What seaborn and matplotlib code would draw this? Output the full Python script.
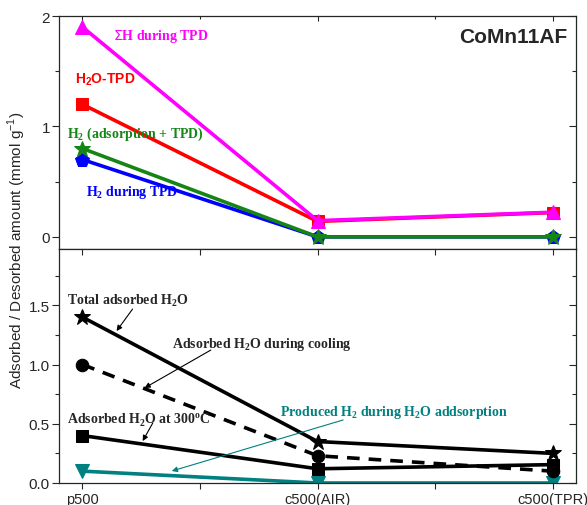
import pandas as pd
import seaborn as sns
import matplotlib.pyplot as plt
from matplotlib.ticker import MultipleLocator

sns.set_style('ticks')
plt.rcParams['font.family'] = ['Liberation Sans', 'DejaVu Sans']

samples = ['p500', 'c500(AIR)', 'c500(TPR)']

# top panel (desorption during TPD)
sum_h_tpd = [1.9, 0.147, 0.223]
h2o_tpd = [1.2, 0.14, 0.22]
h2_ads_tpd = [0.8, 0.0, 0.0]
h2_tpd = [0.7, 0.0, 0.0]

# bottom panel (adsorption)
total_h2o = [1.4, 0.35, 0.25]
h2o_cooling = [1.0, 0.23, 0.10]
h2o_300 = [0.4, 0.12, 0.155]
produced_h2 = [0.1, 0.0, 0.0]

fig = plt.figure(figsize=(5.87, 5.06), dpi=100)
ax1 = fig.add_axes([0.1005, 0.5059, 0.8808, 0.4605])
ax2 = fig.add_axes([0.1005, 0.0435, 0.8808, 0.4624])

serif = ['Liberation Serif', 'DejaVu Serif']
lw = 2.6

top_series = [
    (h2_tpd, '#0000FF', 'p', 10),
    (h2_ads_tpd, '#158515', '*', 12),
    (h2o_tpd, '#FF0000', 's', 8),
    (sum_h_tpd, '#FF00FF', '^', 10),
]
for vals, col, mk, ms in top_series:
    sns.lineplot(x=samples, y=vals, sort=False, color=col, lw=lw, marker=mk,
                 markersize=ms, mec=col, mfc=col, ax=ax1)

bottom_series = [
    (produced_h2, '#008080', 'v', 10),
    (h2o_300, 'black', 's', 8),
    (h2o_cooling, 'black', 'o', 9),
    (total_h2o, 'black', '*', 12),
]
for vals, col, mk, ms in bottom_series:
    sns.lineplot(x=samples, y=vals, sort=False, color=col, lw=lw, marker=mk,
                 markersize=ms, mec=col, mfc=col, ax=ax2)
    if vals is h2o_cooling:
        ax2.lines[-1].set_dashes([3.5, 2.5])

for ax in (ax1, ax2):
    ax.set_xlim(-0.1, 2.1)
    ax.xaxis.set_minor_locator(MultipleLocator(0.5))
    ax.set_xlabel('')
    ax.set_ylabel('')
    ax.tick_params(axis='both', which='both', labelsize=11, width=0.8)
    ax.tick_params(axis='y', which='both', direction='out', right=True, pad=1.5)
    ax.tick_params(axis='y', which='major', length=5)
    ax.tick_params(axis='y', which='minor', length=3)
    ax.tick_params(axis='x', which='both', top=True)
    for s in ax.spines.values():
        s.set_linewidth(0.9)
        s.set_visible(True)

ax1.set_ylim(-0.11, 2.0)
ax1.yaxis.set_major_locator(MultipleLocator(1))
ax1.yaxis.set_minor_locator(MultipleLocator(0.5))
ax1.tick_params(axis='x', which='both', bottom=False, labelbottom=False, direction='in')

ax2.set_ylim(0, 1.975)
ax2.yaxis.set_major_locator(MultipleLocator(0.5))
ax2.yaxis.set_minor_locator(MultipleLocator(0.25))
ax2.yaxis.set_major_formatter(plt.FormatStrFormatter('%.1f'))
ax2.tick_params(axis='x', which='both', direction='out', length=4, pad=2.5, labelsize=10.5)

# inward ticks on the right/top sides
for ax in (ax1, ax2):
    for t in ax.yaxis.get_major_ticks() + ax.yaxis.get_minor_ticks():
        t.tick2line.set_marker(0)
    for t in ax.xaxis.get_major_ticks() + ax.xaxis.get_minor_ticks():
        t.tick2line.set_marker(3)

# top panel labels
ax1.text(0.128, 1.82, r'$\Sigma$H during TPD', color='#FF00FF', fontsize=10,
         fontweight='bold', family=serif, va='center')
ax1.text(-0.034, 1.43, r'H$_\mathregular{2}$O-TPD', color='#FF0000', fontsize=10,
         fontweight='bold', va='center')
ax1.text(-0.068, 0.94, r'H$_\mathregular{2}$ (adsorption + TPD)', color='#158515',
         fontsize=10, fontweight='bold', family=serif, va='center')
ax1.text(0.013, 0.407, r'H$_\mathregular{2}$ during TPD', color='#0000FF', fontsize=10,
         fontweight='bold', family=serif, va='center')
ax1.text(0.983, 0.914, 'CoMn11AF', transform=ax1.transAxes, ha='right', va='center',
         fontsize=15, fontweight='bold')

# bottom panel labels with arrows
arrow = dict(arrowstyle='-|>', lw=0.8, mutation_scale=8, shrinkA=0, shrinkB=0)
ax2.text(-0.064, 1.545, r'Total adsorbed H$_\mathregular{2}$O', fontsize=10,
         fontweight='bold', family=serif, va='center')
ax2.annotate('', xy=(0.145, 1.283), xytext=(0.213, 1.468), arrowprops=dict(arrow, color='black'))

ax2.text(0.38, 1.181, r'Adsorbed H$_\mathregular{2}$O during cooling', fontsize=10,
         fontweight='bold', family=serif, va='center')
ax2.annotate('', xy=(0.264, 0.802), xytext=(0.546, 1.122), arrowprops=dict(arrow, color='black'))

ax2.text(-0.064, 0.54, r'Adsorbed H$_\mathregular{2}$O at 300$^\mathregular{o}$C', fontsize=10,
         fontweight='bold', family=serif, va='center')
ax2.annotate('', xy=(0.256, 0.354), xytext=(0.299, 0.506), arrowprops=dict(arrow, color='black'))

ax2.text(0.84, 0.60, r'Produced H$_\mathregular{2}$ during H$_\mathregular{2}$O addsorption',
         color='#008080', fontsize=10, fontweight='bold', family=serif, va='center')
ax2.annotate('', xy=(0.38, 0.101), xytext=(1.109, 0.532), arrowprops=dict(arrow, color='#008080'))

fig.text(0.029, 0.505, r'Adsorbed / Desorbed amount (mmol g$^\mathregular{-1}$)',
         rotation=90, ha='center', va='center', fontsize=11)

fig.savefig('out.png', dpi=100)
